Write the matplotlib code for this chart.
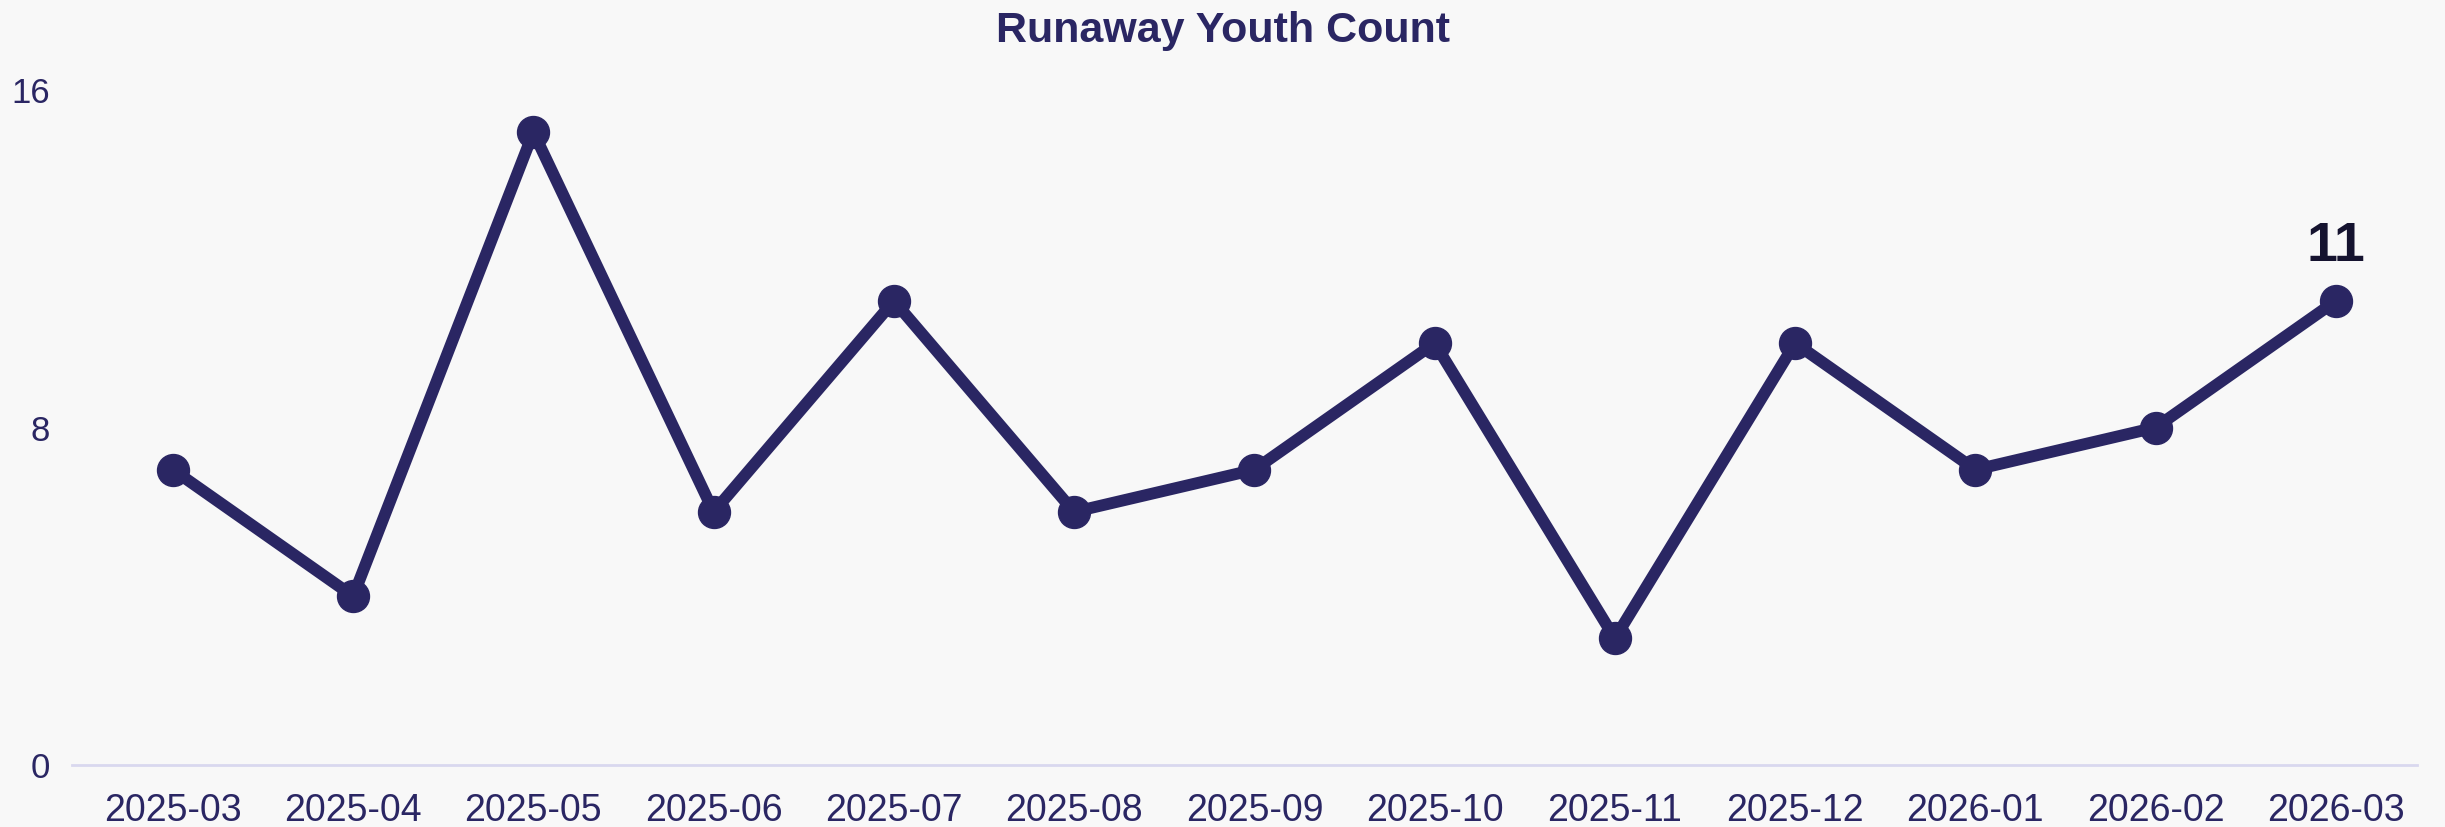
import matplotlib
matplotlib.use("Agg")
import matplotlib.pyplot as plt

months = ["2025-03", "2025-04", "2025-05", "2025-06", "2025-07", "2025-08", "2025-09",
          "2025-10", "2025-11", "2025-12", "2026-01", "2026-02", "2026-03"]
counts = [7, 4, 15, 6, 11, 6, 7, 10, 3, 10, 7, 8, 11]
y_ticks = [0, 8, 16]
title = "Runaway Youth Count"

plt.rcParams['font.family'] = ['Liberation Sans', 'DejaVu Sans']
W, H = 2445, 827
fig = plt.figure(figsize=(W / 100, H / 100), dpi=100, facecolor="#f8f8f8")
ax = fig.add_axes([72 / W, (H - 765) / H, (2417 - 72) / W, (765 - 90) / H])
ax.set_facecolor("#f8f8f8")

color = "#2a2663"
x = list(range(len(months)))
ax.plot(x, counts, color=color, lw=8.5, marker="o", ms=23, solid_capstyle="round",
        solid_joinstyle="miter", zorder=3)

ax.set_xlim(-0.56, len(months) - 1 + 0.45)
ax.set_ylim(0, 16)
ax.set_yticks(y_ticks)
ax.set_xticks(x)
ax.set_xticklabels(months)
ax.tick_params(axis="x", length=0, pad=20, labelsize=27, labelcolor=color)
ax.tick_params(axis="y", length=0, pad=16, labelsize=25, labelcolor=color)
for s in ["top", "right", "left"]:
    ax.spines[s].set_visible(False)
ax.spines["bottom"].set_color("#d9d8ef")
ax.spines["bottom"].set_linewidth(2)
ax.spines["bottom"].set_zorder(1)

ax.annotate(str(counts[-1]), (x[-1], counts[-1]), xytext=(0, 20), textcoords="offset points",
            ha="center", va="bottom", fontsize=40, fontweight="bold", color="#15132f")

fig.text(0.5, 1 - 31 / H, title, ha="center", va="center", fontsize=31,
         fontweight="bold", color=color)

fig.savefig("out.png", dpi=100, facecolor=fig.get_facecolor())
